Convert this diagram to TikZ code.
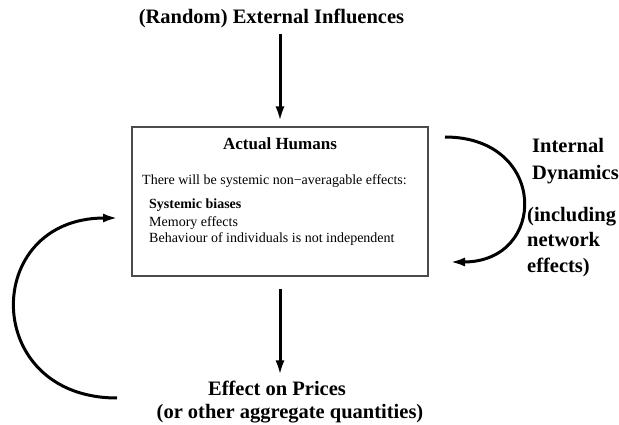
\documentclass[tikz,border=0pt]{standalone}
\usepackage{fontspec}
\setmainfont{Liberation Serif}
\usetikzlibrary{arrows.meta}
\tikzset{
  head/.style={font=\fontsize{20.5}{26}\selectfont\bfseries, inner sep=0pt},
  txt/.style={font=\fontsize{14}{17.5}\selectfont, inner sep=0pt, anchor=base west},
  box/.style={draw=black!70, line width=1.1pt, minimum width=296pt, minimum height=149pt, inner sep=0pt},
  arr/.style={line width=3pt, -{Latex[length=15pt,width=9pt]}}
}
\begin{document}
\begin{tikzpicture}[x=1pt,y=-1pt]
        \useasboundingbox (0,0) rectangle (619,425);

        \node[head, anchor=base] (ext) at (271.5,24) {(Random) External Influences};
        \node[box] (hum) at (280,201.5) {};
        \node[font=\fontsize{17}{20}\selectfont\bfseries, inner sep=0pt, anchor=base] (title) at (280,150) {Actual Humans};
        \node[txt] (there) at (142,185) {There will be systemic non−averagable effects:};
        \node[txt, font=\fontsize{14}{17.5}\selectfont\bfseries] (bias) at (149,208) {Systemic biases};
        \node[txt] (mem) at (149,226) {Memory effects};
        \node[txt] (beh) at (149,243) {Behaviour of individuals is not independent};
        \node[head, anchor=base] (eff) at (277,395) {Effect on Prices};
        \node[head, anchor=base] (agg) at (290,418) {(or other aggregate quantities)};
        \node[head, anchor=base west] (intl) at (532,153) {Internal};
        \node[head, anchor=base west] (dyn) at (532,180) {Dynamics};
        \node[head, anchor=base west] (incl) at (527,222) {(including};
        \node[head, anchor=base west] (net) at (527,247) {network};
        \node[head, anchor=base west] (neff) at (527,272) {effects)};

        \coordinate (ra) at (445,137);
        \coordinate (rb) at (450,262);
        \coordinate (la) at (117,398);
        \coordinate (lb) at (118,218);

        \draw[arr, shorten <=5pt, shorten >=5pt] (ext.south -| hum.north) -- (hum.north);
        \draw[arr, shorten <=12pt, shorten >=5pt] (hum.south) -- (hum.south |- eff.north);
        \draw[arr] (ra) .. controls (548,137) and (548,262) .. (rb);
        \draw[arr] (la) .. controls (-19,398) and (-19,218) .. (lb);
    \end{tikzpicture}
\end{document}
